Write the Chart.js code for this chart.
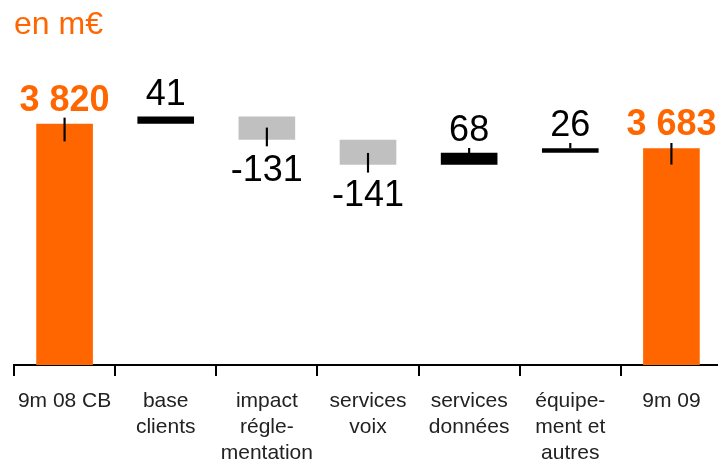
<!DOCTYPE html>
<html>
<head>
<meta charset="utf-8">
<script src="https://cdn.jsdelivr.net/npm/chart.js@4"></script>
<style>
  html, body { margin: 0; padding: 0; background: #fff; }
  #wrap { position: relative; width: 718px; height: 460px; overflow: hidden; }
  #title { position: absolute; left: 14px; top: 5px; font: 32px "Liberation Sans", Arial, sans-serif; color: #ff6600; }
</style>
</head>
<body>
<div id="wrap">
  <div id="title">en m€</div>
  <canvas id="chart" width="722" height="460"></canvas>
</div>
<script>
// chart data
const categories = [
    ['9m 08 CB'],
    ['base', 'clients'],
    ['impact', 'régle-', 'mentation'],
    ['services', 'voix'],
    ['services', 'données'],
    ['équipe-', 'ment et', 'autres'],
    ['9m 09']
];
const steps = [3820, 41, -131, -141, 68, 26, 3683]; // first and last are totals
const isTotal = [true, false, false, false, false, false, true];
// small vertical marks seen on each bar (low, high)
const markers = [[3723, 3853], null, [3695, 3797], [3547, 3654], [3650, 3682], [3684, 3710], [3592, 3710]];

const yMin = 2460;
const yMax = 4180;

const ORANGE = '#ff6600';
const GREY = '#c0c0c0';

// build floating bars for the waterfall
let running = 0;
const bars = [];
const colors = [];
steps.forEach((v, i) => {
    if (isTotal[i]) {
        bars.push([yMin, v]);
        running = v;
        colors.push(ORANGE);
    } else {
        bars.push([running, running + v]);
        running += v;
        colors.push(v < 0 ? GREY : '#000');
    }
});

function fmt(v) {
    const s = String(Math.abs(v)).replace(/\B(?=(\d{3})+(?!\d))/g, ' ');
    return (v < 0 ? '-' : '') + s;
}

// draws the numbers above / below each bar
const valueLabels = {
    id: 'valueLabels',
    afterDatasetsDraw(chart) {
        const ctx = chart.ctx;
        const meta = chart.getDatasetMeta(0);
        ctx.save();
        ctx.textAlign = 'center';
        ctx.textBaseline = 'alphabetic';
        meta.data.forEach((bar, i) => {
            const v = steps[i];
            const top = Math.min(bar.y, bar.base);
            const bottom = Math.max(bar.y, bar.base);
            if (isTotal[i]) {
                ctx.fillStyle = ORANGE;
                ctx.font = 'bold 36px "Liberation Sans", Arial, sans-serif';
                ctx.fillText(fmt(v), bar.x, top - 13);
            } else {
                ctx.fillStyle = '#000';
                ctx.font = '36px "Liberation Sans", Arial, sans-serif';
                if (v < 0) {
                    ctx.fillText(fmt(v), bar.x, bottom + 41);
                } else {
                    ctx.fillText(fmt(v), bar.x, top - 12);
                }
            }
        });
        ctx.restore();
    }
};

const ctx = document.getElementById('chart').getContext('2d');
const chart = new Chart(ctx, {
    type: 'bar',
    data: {
        labels: categories,
        datasets: [{
            data: bars,
            backgroundColor: colors,
            barPercentage: 0.56,
            categoryPercentage: 1,
            grouped: false,
            order: 2
        }, {
            data: markers,
            backgroundColor: '#000',
            barThickness: 1.5,
            grouped: false,
            order: 1
        }]
    },
    options: {
        responsive: false,
        animation: false,
        layout: { padding: { left: 14, right: 0, top: 60, bottom: 0 } },
        plugins: {
            legend: { display: false },
            tooltip: { enabled: false }
        },
        scales: {
            y: {
                display: false,
                min: yMin,
                max: yMax
            },
            x: {
                afterFit: (scale) => { scale.height = 95; },
                border: { display: true, color: '#000', width: 2 },
                grid: {
                    offset: true,
                    drawOnChartArea: false,
                    drawTicks: true,
                    tickLength: 11,
                    color: '#000',
                    lineWidth: 2
                },
                ticks: {
                    color: '#222',
                    padding: 12,
                    maxRotation: 0,
                    autoSkip: false,
                    font: { family: '"Liberation Sans", Arial, sans-serif', size: 21, lineHeight: 1.24 }
                }
            }
        }
    },
    plugins: [valueLabels]
});
</script>
</body>
</html>
